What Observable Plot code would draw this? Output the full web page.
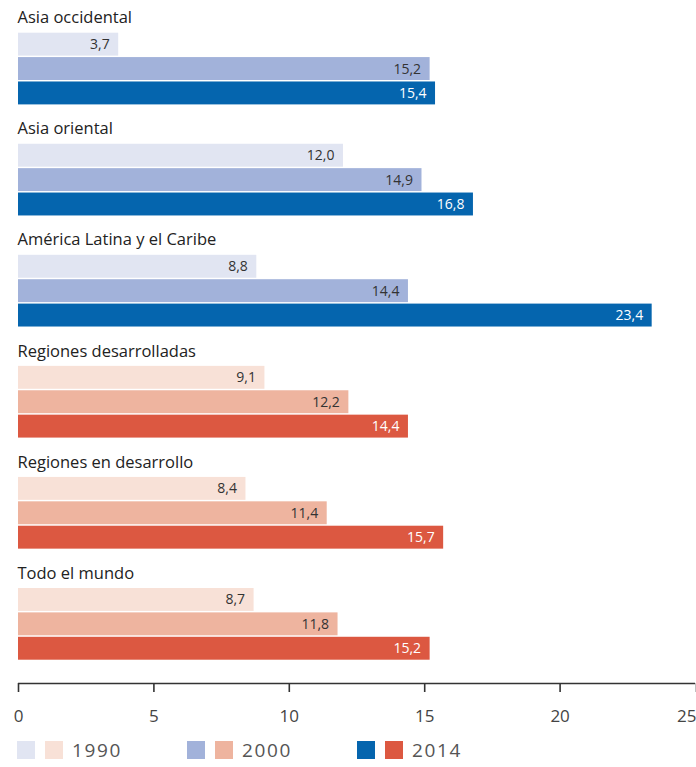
<!DOCTYPE html>
<html>
<head>
<meta charset="utf-8">
<script src="https://cdn.jsdelivr.net/npm/d3@7"></script>
<script src="https://cdn.jsdelivr.net/npm/@observablehq/plot@0.6"></script>
<style>
  body { margin: 0; background: #fff; font-family: "Open Sans", sans-serif; }
  #chart svg { display: block; overflow: visible; }
  .legend { display: flex; align-items: center; margin: 9px 0 0 17px; height: 22px; }
  .legend .item { display: flex; align-items: center; width: 170px; }
  .legend .sw { width: 18px; height: 18px; margin-right: 10px; }
  .legend .lab { font-size: 19px; color: #555; letter-spacing: 1.6px; margin-left: -1px; }
</style>
</head>
<body>
<div id="chart"></div>
<script>
// ---- data ----
const regions = [
  "Asia occidental",
  "Asia oriental",
  "América Latina y el Caribe",
  "Regiones desarrolladas",
  "Regiones en desarrollo",
  "Todo el mundo"
];
const years = ["1990", "2000", "2014"];
const v1990 = [3.7, 12.0, 8.8, 9.1, 8.4, 8.7];
const v2000 = [15.2, 14.9, 14.4, 12.2, 11.4, 11.8];
const v2014 = [15.4, 16.8, 23.4, 14.4, 15.7, 15.2];
const family = ["blue", "blue", "blue", "red", "red", "red"];
const xTicks = [0, 5, 10, 15, 20, 25];

// ---- styles ----
const palette = {
  blue: ["#e1e5f2", "#a2b2da", "#0565ae"],
  red:  ["#f8e1d7", "#eeb49f", "#dc5841"]
};
const labelColor = ["#333333", "#333333", "#ffffff"];

// ---- layout (in bar-row units) ----
const groupStep = 4.553;
const firstBarTop = 1.34;
const barThick = 0.94;
const yMax = 28;

const series = [v1990, v2000, v2014];
const rows = [];
regions.forEach((r, g) => {
  series.forEach((vals, k) => {
    const top = firstBarTop + g * groupStep + k;
    rows.push({
      region: r, year: years[k], value: vals[g],
      y1: top, y2: top + barThick, yc: top + barThick / 2,
      color: palette[family[g]][k], tcolor: labelColor[k]
    });
  });
});
const labels = regions.map((r, g) => ({region: r, y: firstBarTop + g * groupStep - 0.62}));
const fmt = v => d3.format(".1f")(v).replace(".", ",");
const lastTick = xTicks[xTicks.length - 1];

const plot = Plot.plot({
  width: 696,
  height: 730,
  marginTop: 0,
  marginLeft: 18,
  marginRight: 1,
  marginBottom: 47,
  style: {fontFamily: "Open Sans, sans-serif", background: "#fff"},
  x: {domain: [0, 25], axis: null, label: null},
  y: {domain: [0, yMax], reverse: true, axis: null, label: null},
  color: {type: "identity"},
  marks: [
    Plot.rect(rows, {x1: 0, x2: "value", y1: "y1", y2: "y2", fill: "color"}),
    Plot.text(rows, {x: "value", y: "yc", text: d => fmt(d.value), fill: "tcolor",
      textAnchor: "end", dx: -9, fontSize: 14, fontWeight: 500, letterSpacing: -0.6}),
    Plot.text(labels, {x: 0, y: "y", text: "region", textAnchor: "start", dx: -1,
      fill: "#222", fontSize: 16.5}),
    Plot.ruleY([yMax], {stroke: "#333", strokeWidth: 1.6}),
    Plot.axisX({ticks: xTicks.slice(0, -1), tickSize: 9, tickPadding: 17, stroke: "#333",
      strokeWidth: 1.6, fontSize: 17, color: "#444", label: null, tickFormat: d => d}),
    Plot.axisX({ticks: [lastTick], tickSize: 9, tickPadding: 17, stroke: "#333",
      strokeWidth: 1.6, fontSize: 17, color: "#444", label: null, tickFormat: d => d,
      textAnchor: "end", dx: 1})
  ]
});
document.getElementById("chart").appendChild(plot);

// legend
const legend = document.createElement("div");
legend.className = "legend";
years.forEach((y, k) => {
  const item = document.createElement("div");
  item.className = "item";
  ["blue", "red"].forEach(f => {
    const sw = document.createElement("div");
    sw.className = "sw";
    sw.style.background = palette[f][k];
    item.appendChild(sw);
  });
  const lab = document.createElement("span");
  lab.className = "lab";
  lab.textContent = y;
  item.appendChild(lab);
  legend.appendChild(item);
});
document.body.appendChild(legend);
</script>
</body>
</html>
